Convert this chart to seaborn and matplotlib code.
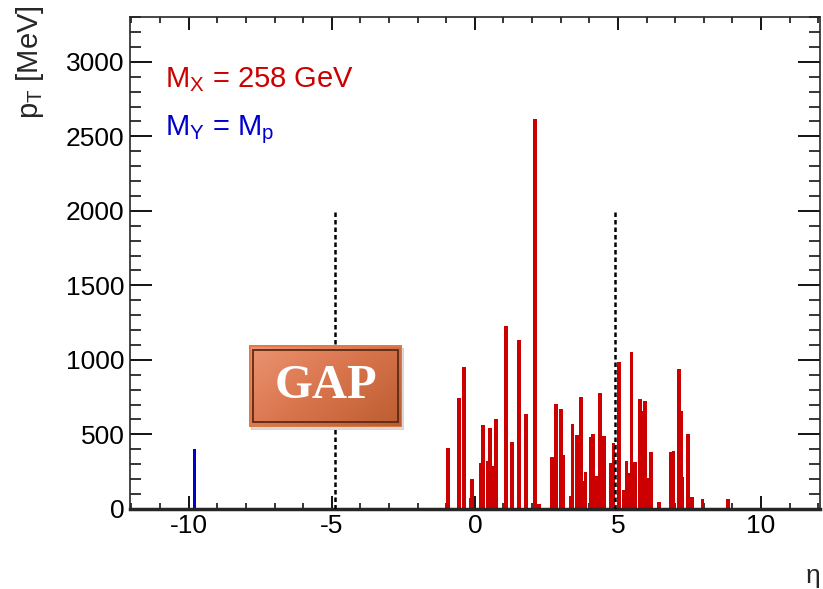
import numpy as np
import matplotlib
matplotlib.use("Agg")
import matplotlib.pyplot as plt
import seaborn as sns
from matplotlib.colors import LinearSegmentedColormap
from matplotlib.patches import Rectangle
from matplotlib.ticker import MultipleLocator

# Particles of the diffractive system X (eta, pT in MeV)
eta_x = [-0.93, -0.55, -0.38, -0.14, -0.10, 0.21, 0.29, 0.46, 0.52, 0.59,
         0.73, 1.09, 1.31, 1.54, 1.79, 2.10, 2.24, 2.69, 2.83, 3.01,
         3.10, 3.36, 3.41, 3.56, 3.72, 3.80, 3.87, 4.04, 4.14, 4.25,
         4.36, 4.51, 4.74, 4.84, 5.03, 5.22, 5.30, 5.39, 5.47, 5.55,
         5.60, 5.76, 5.85, 5.94, 6.05, 6.15, 6.43, 6.85, 6.94, 7.13,
         7.20, 7.25, 7.46, 7.59, 7.95, 8.84]
pt_x = [407, 743, 951, 70, 199, 311, 566, 324, 543, 289,
        606, 1230, 452, 1134, 635, 2615, 30, 347, 702, 671,
        362, 87, 570, 494, 749, 190, 250, 485, 501, 221,
        776, 490, 306, 445, 988, 127, 320, 240, 1050, 244,
        315, 736, 660, 722, 206, 385, 49, 380, 389, 939,
        660, 217, 503, 78, 65, 65]

# Scattered proton (system Y)
eta_y = [-9.8]
pt_y = [400]

# Calorimeter acceptance edges
eta_edges = [-4.9, 4.9]
edge_height = 2000

text_x = r"$\mathregular{M_X}$ = 258 GeV"
text_y = r"$\mathregular{M_Y}$ = $\mathregular{M_p}$"

sns.set_style("ticks")
plt.rcParams['font.family'] = ['Liberation Sans', 'DejaVu Sans']
plt.rcParams['mathtext.fontset'] = 'custom'
plt.rcParams['mathtext.rm'] = 'Liberation Sans'
plt.rcParams['axes.unicode_minus'] = False

red = "#cc0000"
blue = "#0000cc"

fig = plt.figure(figsize=(8.23, 5.89), dpi=100)
ax = fig.add_axes([0.158, 0.136, 0.838, 0.835])

red_width = 0.13 / np.diff(np.unique(eta_x)).min()
sns.barplot(x=eta_x, y=pt_x, native_scale=True, orient="x", width=red_width,
            color=red, saturation=1, errorbar=None, edgecolor="none",
            linewidth=0, ax=ax, zorder=2)
sns.barplot(x=eta_y, y=pt_y, native_scale=True, orient="x", width=0.12,
            color=blue, saturation=1, errorbar=None, edgecolor="none",
            linewidth=0, ax=ax, zorder=2)

ax.vlines(eta_edges, 0, edge_height, colors="black", linewidth=1.8,
          linestyles=(0, (1.8, 1.2)), zorder=3)

ax.set_xlim(-12.05, 12.05)
ax.set_ylim(0, 3300)
ax.xaxis.set_major_locator(MultipleLocator(5))
ax.xaxis.set_minor_locator(MultipleLocator(1))
ax.yaxis.set_major_locator(MultipleLocator(500))
ax.yaxis.set_minor_locator(MultipleLocator(100))
ax.set_xlabel("")
ax.set_ylabel("")

ax.tick_params(which="both", direction="in", top=True, right=True,
               labelsize=19, colors="black")
ax.tick_params(axis="x", which="major", length=9.5, width=1.3, pad=4)
ax.tick_params(axis="x", which="minor", length=4, width=1.1)
ax.tick_params(axis="y", which="major", length=16, width=1.3, pad=4)
ax.tick_params(axis="y", which="minor", length=8, width=1.1)
for side in ["left", "top", "right"]:
    ax.spines[side].set_linewidth(1.2)
ax.spines["bottom"].set_linewidth(2.5)

fig.text(0.988, 0.022, "η", fontsize=19, ha="center", va="center")
fig.text(0.036, 1 - 62 / 589, r"$\mathregular{p_T}$ [MeV]", fontsize=21,
         rotation=90, ha="center", va="center")
fig.text(165 / 823, 1 - 87 / 589, text_x, fontsize=21, color=red, va="baseline")
fig.text(165 / 823, 1 - 135 / 589, text_y, fontsize=21, color=blue, va="baseline")

# GAP label box
shadow = fig.add_axes([251 / 823, 1 - 429.5 / 589, 153 / 823, 81.7 / 589])
shadow.add_patch(Rectangle((0, 0), 1, 1, color="#999999", alpha=0.35))
shadow.axis("off")
gap = fig.add_axes([249 / 823, 1 - 426.7 / 589, 153 / 823, 81.7 / 589])
gx, gy = np.meshgrid(np.linspace(0, 1, 200), np.linspace(0, 1, 100))
grad = 0.6 * gx + 0.4 * gy
cmap = LinearSegmentedColormap.from_list("gap", ["#ec9472", "#d8744c", "#bb5c30"])
gap.imshow(grad, cmap=cmap, extent=[0, 1, 0, 1], aspect="auto", origin="upper")
gap.add_patch(Rectangle((0.028, 0.06), 0.944, 0.88, fill=False,
                        edgecolor="#5c2a16", linewidth=1.3))
gap.add_patch(Rectangle((0, 0), 1, 1, fill=False, edgecolor="#e07a45",
                        linewidth=2))
gap.text(0.5, 0.5, "GAP", color="white", fontsize=35, fontweight="bold",
         family=["Liberation Serif", "DejaVu Serif"], ha="center", va="center")
gap.set_xlim(0, 1)
gap.set_ylim(0, 1)
gap.axis("off")

fig.savefig("out.png", dpi=100)
